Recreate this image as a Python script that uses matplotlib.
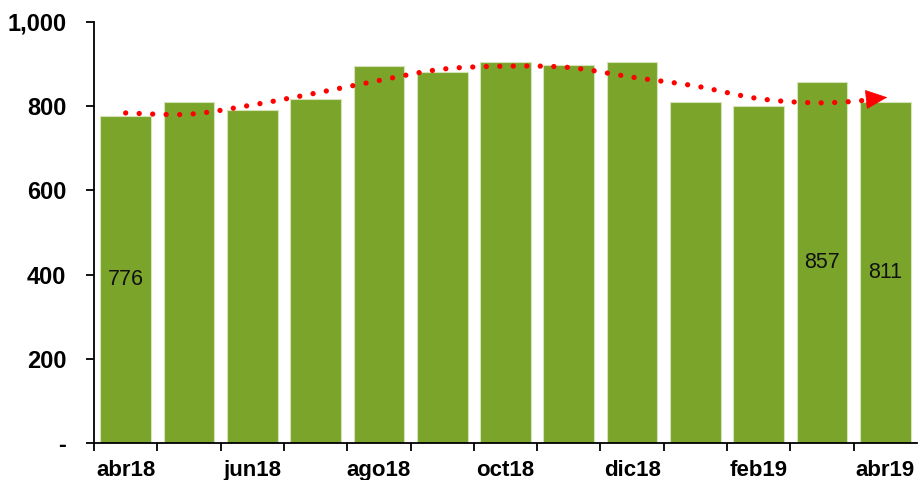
import matplotlib.pyplot as plt
import numpy as np
from matplotlib.path import Path
from matplotlib.patches import PathPatch

# --- datos ---
meses = ['abr18', 'may18', 'jun18', 'jul18', 'ago18', 'sep18', 'oct18',
         'nov18', 'dic18', 'ene19', 'feb19', 'mar19', 'abr19']
valores = [776, 810, 792, 817, 896, 881, 904, 898, 905, 809, 800, 857, 811]
# tendencia (línea roja punteada)
tendencia = [784, 781, 803, 831, 861, 888, 895, 892, 869, 848, 818, 808, 818]
# barras con etiqueta
etiquetas = {0: '776', 11: '857', 12: '811'}
yticks = [0, 200, 400, 600, 800, 1000]
ytick_labels = ['-', '200', '400', '600', '800', '1,000']

plt.rcParams['font.family'] = ['Liberation Sans', 'DejaVu Sans']

fig = plt.figure(figsize=(9.19, 4.8), dpi=100)
ax = fig.add_axes([94 / 919, 1 - 443 / 480, 823 / 919, 421 / 480])

x = np.arange(len(meses))
ax.bar(x, valores, width=0.8, color='#7AA52A', edgecolor='#d5e4b8', linewidth=0.8, zorder=2)

for i, txt in etiquetas.items():
    ax.text(x[i], valores[i] / 2, txt, ha='center', va='center', fontsize=15.5,
            color='#111111', zorder=4)

# curva suave (Catmull-Rom -> Bezier) con los puntos de tendencia
pts = np.column_stack([x, tendencia]).astype(float)
verts = [tuple(pts[0])]
codes = [Path.MOVETO]
n = len(pts)
for i in range(n - 1):
    p0 = pts[max(i - 1, 0)]
    p1 = pts[i]
    p2 = pts[i + 1]
    p3 = pts[min(i + 2, n - 1)]
    c1 = p1 + (p2 - p0) / 6
    c2 = p2 - (p3 - p1) / 6
    verts += [tuple(c1), tuple(c2), tuple(p2)]
    codes += [Path.CURVE4] * 3
curva = PathPatch(Path(verts, codes), facecolor='none', edgecolor='#FF0000',
                  linewidth=3.8, linestyle=(0, (0.01, 2.55)), capstyle='round', zorder=3)
ax.add_patch(curva)
ax.annotate('', xy=(x[-1] + 0.03, tendencia[-1] + 3), xytext=(x[-1] - 0.3, tendencia[-1] - 2),
            arrowprops=dict(arrowstyle='-|>,head_length=1.45,head_width=0.65', color='#FF0000',
                            lw=0.5, shrinkA=0, shrinkB=0), zorder=4)

ax.set_xlim(-0.5, len(meses) - 0.5)
ax.set_ylim(0, 1000)
ax.set_yticks(yticks)
ax.set_yticklabels(ytick_labels, fontsize=17, fontweight='bold')
ax.tick_params(axis='y', length=6, width=1.3, pad=14)

ax.set_xticks(np.arange(-0.5, len(meses) - 0.5, 1))
ax.set_xticklabels([])
ax.tick_params(axis='x', which='major', length=6, width=1.3)
ax.set_xticks(x[::2], minor=True)
ax.set_xticklabels(meses[::2], minor=True, fontsize=16, fontweight='bold')
ax.tick_params(axis='x', which='minor', length=0, pad=12)

for s in ['top', 'right']:
    ax.spines[s].set_visible(False)
for s in ['left', 'bottom']:
    ax.spines[s].set_linewidth(1.3)

fig.savefig('out.png', dpi=100)
